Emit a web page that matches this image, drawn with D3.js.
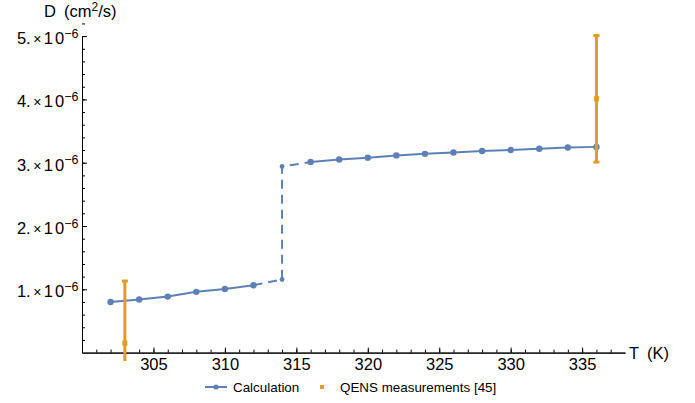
<!DOCTYPE html>
<html>
<head>
<meta charset="utf-8">
<script src="https://cdn.jsdelivr.net/npm/d3@7"></script>
<style>
  body { margin: 0; background: #fff; }
  text { font-family: "Liberation Sans", Arial, sans-serif; fill: #000; }
</style>
</head>
<body>
<script>
// calculation, low-T branch and high-T branch (D in units of 1e-6 cm^2/s)
var lowT  = [302, 304, 306, 308, 310, 312, 314]
var lowD  = [0.80, 0.84, 0.885, 0.96, 1.005, 1.065, 1.155]
var highT = [314, 316, 318, 320, 322, 324, 326, 328, 330, 332, 334, 336]
var highD = [2.94, 3.01, 3.05, 3.08, 3.115, 3.14, 3.16, 3.185, 3.20, 3.22, 3.24, 3.25]

// QENS measurements with error bars
var qensT   = [303, 336]
var qensD   = [0.15, 4.01]
var qensErr = [0.98, 1.0]

var xMajor = [305, 310, 315, 320, 325, 330, 335]
var yMajor = [1, 2, 3, 4, 5]

var blue = "#5e81b5", orange = "#e19c24"

var svg = d3.select("body").append("svg")
  .attr("width", 695)
  .attr("height", 403)

var x = d3.scaleLinear().domain([300, 338]).range([82, 625])
var y = d3.scaleLinear().domain([0, 5]).range([352.6, 36.1])

// minor ticks
svg.append("g")
  .attr("transform", "translate(0," + y(0) + ")")
  .call(d3.axisBottom(x).tickValues(d3.range(301, 338)).tickSize(-3).tickSizeOuter(0).tickFormat(""))
svg.append("g")
  .attr("transform", "translate(" + x(300) + ",0)")
  .call(d3.axisLeft(y).tickValues(d3.range(0.2, 5.21, 0.2)).tickSize(-3).tickSizeOuter(0).tickFormat(""))

// major ticks + labels
var xAxis = svg.append("g")
  .attr("transform", "translate(0," + y(0) + ")")
  .call(d3.axisBottom(x).tickValues(xMajor).tickSize(-5).tickSizeOuter(0))
xAxis.selectAll("text").attr("font-size", "16.5px").attr("y", 17.5).attr("dy", 0)

var yAxis = svg.append("g")
  .attr("transform", "translate(" + x(300) + ",0)")
  .call(d3.axisLeft(y).tickValues(yMajor).tickSize(-5).tickSizeOuter(0).tickPadding(3.5).tickFormat(""))

yAxis.selectAll(".tick text").each(function(d) {
  var t = d3.select(this).attr("dy", null).attr("y", 7.5).attr("font-size", "16.5px")
  t.append("tspan").text(d + ".")
  t.append("tspan").attr("font-size", "14px").attr("dx", 2.5).text("\u00d7")
  t.append("tspan").attr("dx", 2.5).text("1")
  t.append("tspan").attr("dx", 2).text("0")
  t.append("tspan").attr("font-size", "12.5px").attr("dy", -6.5).text("\u22126")
})

svg.selectAll(".domain").attr("stroke", "#000")
svg.selectAll(".tick line").attr("stroke", "#000")

// axis titles
svg.append("text").attr("x", 44).attr("y", 17).attr("font-size", "16.5px").text("D")
var dt = svg.append("text").attr("x", 64).attr("y", 17).attr("font-size", "16.5px")
dt.append("tspan").text("(cm")
dt.append("tspan").attr("font-size", "12px").attr("dy", -6.5).text("2")
dt.append("tspan").attr("dy", 6.5).text("/s)")
svg.append("text").attr("x", 629).attr("y", 359).attr("font-size", "16.5px").text("T")
svg.append("text").attr("x", 647).attr("y", 359).attr("font-size", "16.5px").text("(K)")

// calculation line
var line = d3.line().x(function(d) { return x(d[0]) }).y(function(d) { return y(d[1]) })
var low = d3.zip(lowT, lowD), high = d3.zip(highT, highD)
var solidLow = low.slice(0, 6), solidHigh = high.slice(1)
var jump = [low[5], low[6], high[0], high[1]]

var lineStyle = function(p) {
  return p.attr("fill", "none").attr("stroke", blue).attr("stroke-width", 2)
    .attr("stroke-linejoin", "round")
}
svg.append("path").datum(solidLow).attr("d", line).call(lineStyle)
svg.append("path").datum(solidHigh).attr("d", line).call(lineStyle)
svg.append("path").datum(jump).attr("d", line).call(lineStyle).attr("stroke-dasharray", "9,6")

var pts = low.concat(high)
svg.selectAll("circle.calc").data(pts).enter()
  .append("circle")
  .attr("class", "calc")
  .attr("cx", function(d) { return x(d[0]) })
  .attr("cy", function(d) { return y(d[1]) })
  .attr("r", function(d) { return d[0] == 314 ? 2.4 : 3.2 })
  .attr("fill", blue)

// QENS error bars, clipped a little below the axis
svg.append("clipPath").attr("id", "clip")
  .append("rect").attr("x", 60).attr("y", 0).attr("width", 600).attr("height", 361)
var qens = svg.append("g").attr("clip-path", "url(#clip)")
var q = d3.zip(qensT, qensD, qensErr)
qens.selectAll("line.bar").data(q).enter()
  .append("line")
  .attr("x1", function(d) { return x(d[0]) })
  .attr("x2", function(d) { return x(d[0]) })
  .attr("y1", function(d) { return y(d[1] - d[2]) })
  .attr("y2", function(d) { return y(d[1] + d[2]) })
  .attr("stroke", orange).attr("stroke-width", 3)
qens.selectAll("rect.cap").data(q.concat(q.map(function(d) { return [d[0], d[1], -d[2]] }))).enter()
  .append("rect")
  .attr("x", function(d) { return x(d[0]) - 3 })
  .attr("y", function(d) { return y(d[1] + d[2]) - 1.5 })
  .attr("width", 6).attr("height", 3)
  .attr("fill", orange)
qens.selectAll("rect.pt").data(q).enter()
  .append("rect")
  .attr("x", function(d) { return x(d[0]) - 2.5 })
  .attr("y", function(d) { return y(d[1]) - 2.5 })
  .attr("width", 5).attr("height", 5)
  .attr("fill", orange)

// legend
var lg = svg.append("g").attr("transform", "translate(0,387)")
lg.append("line").attr("x1", 205).attr("x2", 227).attr("stroke", blue).attr("stroke-width", 2)
lg.append("circle").attr("cx", 216).attr("r", 2.6).attr("fill", blue)
lg.append("text").attr("x", 233).attr("y", 4.5).attr("font-size", "13.4px").text("Calculation")
lg.append("rect").attr("x", 320).attr("y", -2).attr("width", 4).attr("height", 4).attr("fill", orange)
lg.append("text").attr("x", 340).attr("y", 4.5).attr("font-size", "13.4px").text("QENS measurements [45]")
</script>
</body>
</html>
